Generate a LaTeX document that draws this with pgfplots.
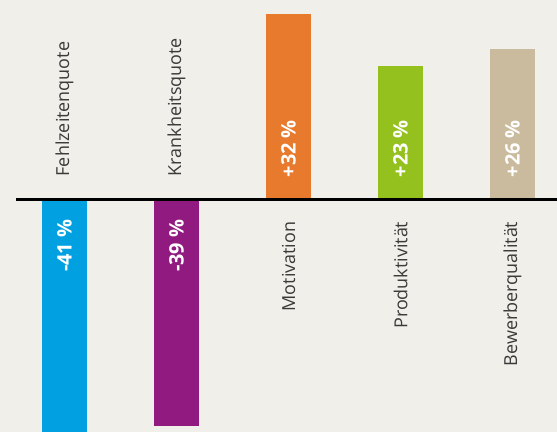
\documentclass[border=0pt]{standalone}
\usepackage{pgfplots}
\pgfplotsset{compat=1.18}
\usepackage{fontspec}
\setmainfont{Open Sans}
\definecolor{bgc}{HTML}{F0EFEA}
\definecolor{cblue}{HTML}{00A0E1}
\definecolor{cpurple}{HTML}{911A80}
\definecolor{corange}{HTML}{E87A2E}
\definecolor{cgreen}{HTML}{95C11F}
\definecolor{cbeige}{HTML}{CBBB9E}
\definecolor{ctext}{HTML}{3A3A3A}
\begin{document}
\begin{tikzpicture}
\begin{axis}[
  scale only axis, width=557bp, height=432bp,
  xmin=-0.576, xmax=4.397, ymin=-40.09, ymax=34.4,
  axis lines=none, ticks=none,
  axis background/.style={fill=bgc},
  ybar, bar width=0.402, bar shift=0pt,
]
\addplot[fill=cblue, draw=none] coordinates {(0,-41)};
\addplot[fill=cpurple, draw=none] coordinates {(1,-39)};
\addplot[fill=corange, draw=none] coordinates {(2,32)};
\addplot[fill=cgreen, draw=none] coordinates {(3,23)};
\addplot[fill=cbeige, draw=none] coordinates {(4,26)};
\draw[black, line width=3bp] (axis cs:-0.433,0) -- (axis cs:4.397,0);
% category labels
\begin{scope}[font=\fontsize{18}{21}\selectfont, text=ctext]
\node[rotate=90, anchor=west, inner sep=0pt] at ([yshift=23bp]axis cs:0,0) {Fehlzeitenquote};
\node[rotate=90, anchor=west, inner sep=0pt] at ([yshift=23bp]axis cs:1,0) {Krankheitsquote};
\node[rotate=90, anchor=east, inner sep=0pt] at ([yshift=-22bp]axis cs:2,0) {Motivation};
\node[rotate=90, anchor=east, inner sep=0pt] at ([yshift=-22bp]axis cs:3,0) {Produktivität};
\node[rotate=90, anchor=east, inner sep=0pt] at ([yshift=-22bp]axis cs:4,0) {Bewerberqualität};
\end{scope}
% value labels
\begin{scope}[font=\bfseries\fontsize{20}{23}\selectfont, text=white]
\node[rotate=90, anchor=east, inner sep=0pt] at ([yshift=-20bp]axis cs:0,0) {-41 \%};
\node[rotate=90, anchor=east, inner sep=0pt] at ([yshift=-20bp]axis cs:1,0) {-39 \%};
\node[rotate=90, anchor=west, inner sep=0pt] at ([yshift=22bp]axis cs:2,0) {+32 \%};
\node[rotate=90, anchor=west, inner sep=0pt] at ([yshift=22bp]axis cs:3,0) {+23 \%};
\node[rotate=90, anchor=west, inner sep=0pt] at ([yshift=22bp]axis cs:4,0) {+26 \%};
\end{scope}
\end{axis}
\end{tikzpicture}
\end{document}
